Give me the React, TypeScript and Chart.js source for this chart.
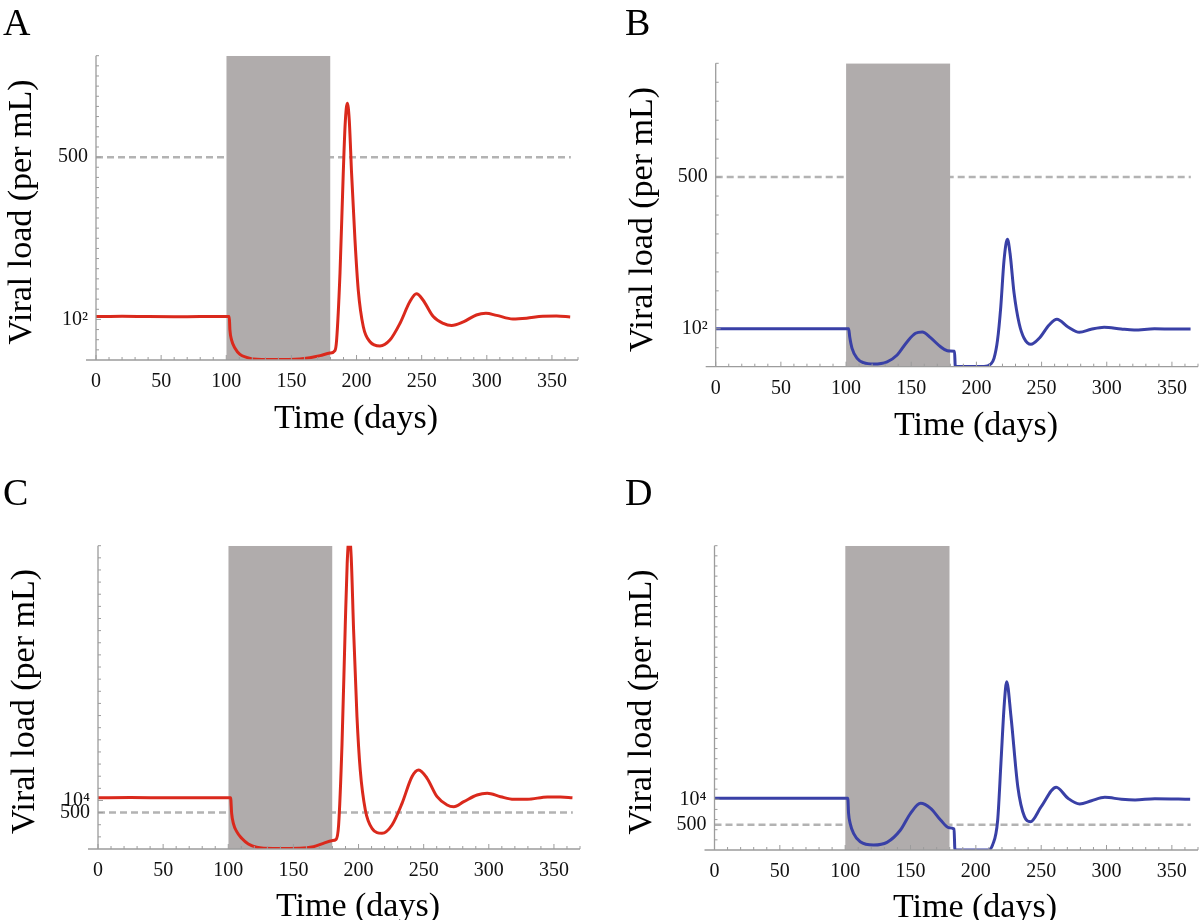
import React, { useEffect, useRef } from "react";
import { Chart, registerables } from "chart.js";

Chart.register(...registerables);

// ---------- shared data ----------
const treatmentStart = 100;
const treatmentEnd = 180;
const xMax = 370;
const thresholdEnd = 364.5;
const xTickValues = [0, 50, 100, 150, 200, 250, 300, 350];
const xTickLabels = ["0", "50", "100", "150", "200", "250", "300", "350"];
const xTitle = "Time (days)";
const yTitle = "Viral load (per mL)";

// ---------- panel A ----------
const daysA = [0, 20, 40, 60, 80, 100, 102.3, 102.8, 104.1, 106.7, 110.5, 115.6, 120.7, 136, 156.6, 164.2, 172, 179.6, 183.4, 184.7, 187.3, 189.8, 191.3, 192.9, 194.4, 196.2, 198.8, 201.3, 205.2, 210.3, 218, 225.6, 233.3, 241, 246, 251, 258.9, 266.6, 273, 282, 292, 299.3, 307.5, 320, 330.5, 343, 353.5, 364];
const loadA = [107, 108, 107, 106.5, 107, 107, 107, 74, 49, 29, 14, 6.6, 2.5, 1, 2.5, 5.7, 10.7, 17, 23, 49, 214, 460, 583, 633, 592, 460, 296, 173, 82, 45, 34.5, 49, 90, 144, 163, 148, 107, 90, 85, 94, 111, 115, 110, 101, 103, 108, 108.5, 106];
const yTickValuesA = [100, 500];
const yTickLabelsA = ["10\u00B2", "500"];
const thresholdA = 500;
const yMaxA = 750;
const yStepA = 25;

// ---------- panel B ----------
const daysB = [0, 25, 50, 75, 100, 102, 102.8, 104.6, 108.5, 113.5, 121.2, 131.5, 139.2, 146.9, 153.3, 158.5, 164.8, 172.5, 177.7, 180, 183.2, 183.8, 195, 205.8, 211, 213.5, 216.2, 218.7, 221.2, 223.8, 225.8, 228.9, 232.8, 236.6, 241.8, 248.2, 255.8, 261.8, 270, 279, 288, 298, 311, 321, 336.6, 352, 364.3];
const loadB = [100, 100, 100, 100, 100, 100, 79, 48.5, 22, 10.5, 7, 13, 31, 66, 88, 91.5, 76.5, 52.7, 42, 41.5, 41, 0.5, 0.5, 0.5, 7, 22, 70, 158, 281, 336, 299, 194, 114, 75, 59, 75, 110, 125, 105.5, 90.7, 98.6, 104, 99.4, 96.8, 100, 99.4, 99.4];
const yTickValuesB = [100, 500];
const yTickLabelsB = ["10\u00B2", "500"];
const thresholdB = 500;
const yMaxB = 800;
const yStepB = 50;

// ---------- panel C ----------
const daysC = [0, 25, 50, 75, 100, 101.8, 102.6, 103.9, 106.5, 110.3, 115.4, 121.8, 134.6, 155, 165.4, 173, 179.5, 182.8, 184.7, 187.3, 189.8, 191.3, 192.9, 194.4, 196.2, 198.8, 201.3, 205.2, 210.3, 218, 225.7, 233.4, 241, 246.2, 252.6, 260.3, 268, 273.1, 280.8, 291, 298.8, 309, 319.2, 329.5, 345, 355, 364.2];
const loadC = [10570, 10600, 10570, 10550, 10570, 10570, 7350, 5300, 3570, 2200, 1030, 350, 100, 150, 480, 1170, 1720, 2000, 4900, 21500, 46000, 59000, 64500, 60000, 45130, 27260, 16280, 8040, 4260, 3230, 4950, 9410, 14900, 16280, 14570, 10780, 9070, 8720, 9750, 11130, 11480, 10780, 10240, 10240, 10720, 10720, 10570];
const yTickValuesC = [10000, 7500];
const yTickLabelsC = ["10\u2074", "500"];
const thresholdC = 7500;
const yMaxC = 62500;
const yStepC = 2500;

// ---------- panel D ----------
const daysD = [0, 25, 50, 75, 100, 102, 102.6, 103.8, 106.4, 111.5, 121.8, 132, 142.3, 150, 157.7, 165.4, 173, 179.5, 183.3, 184, 195, 209, 212.8, 216.7, 219.2, 221.8, 223.6, 226.9, 232.1, 237.2, 241.8, 250, 261.5, 270.5, 279.5, 288.5, 298.7, 311.5, 321.8, 337, 364];
const loadD = [10190, 10190, 10190, 10190, 10190, 10190, 7240, 5260, 3290, 1640, 990, 1510, 3940, 7240, 9210, 8220, 5920, 4400, 4140, 0, 0, 0, 990, 5900, 17150, 28980, 33180, 26280, 12480, 6570, 5580, 8540, 12360, 10190, 9070, 9720, 10390, 10000, 9860, 10110, 10000];
const yTickValuesD = [10000, 5000];
const yTickLabelsD = ["10\u2074", "500"];
const thresholdD = 5000;
const yMaxD = 60000;
const yStepD = 2000;

// ---------- styles ----------
const RED = "#da291c";
const BLUE = "#3940a6";
const RECT_GRAY = "#b0acac";
const DASH_GRAY = "#b3b3b3";
const AXIS_GRAY = "#9c9c9c";
const SERIF = "'Liberation Serif', 'Times New Roman', serif";

type Area = { left: number; right: number; top: number; bottom: number };
type PanelSpec = {
  letter: string;
  days: number[];
  load: number[];
  color: string;
  yMax: number;
  yStep: number;
  yTickValues: number[];
  yTickLabels: string[];
  threshold: number;
  area: Area;
  letterPos: [number, number];
  xTitlePos: [number, number];
  yTitlePos: [number, number];
};

const W = 600;
const H = 460;

const panels: { spec: PanelSpec; left: number; top: number }[] = [
  {
    left: 0,
    top: 0,
    spec: {
      letter: "A", days: daysA, load: loadA, color: RED, yMax: yMaxA, yStep: yStepA,
      yTickValues: yTickValuesA, yTickLabels: yTickLabelsA, threshold: thresholdA,
      area: { left: 96, right: 578, top: 55.7, bottom: 360 },
      letterPos: [3, 35], xTitlePos: [356, 428], yTitlePos: [31, 212],
    },
  },
  {
    left: 600,
    top: 0,
    spec: {
      letter: "B", days: daysB, load: loadB, color: BLUE, yMax: yMaxB, yStep: yStepB,
      yTickValues: yTickValuesB, yTickLabels: yTickLabelsB, threshold: thresholdB,
      area: { left: 115.7, right: 598, top: 63.3, bottom: 366.7 },
      letterPos: [25, 35], xTitlePos: [376, 435], yTitlePos: [51.5, 219.5],
    },
  },
  {
    left: 0,
    top: 460,
    spec: {
      letter: "C", days: daysC, load: loadC, color: RED, yMax: yMaxC, yStep: yStepC,
      yTickValues: yTickValuesC, yTickLabels: yTickLabelsC, threshold: thresholdC,
      area: { left: 98, right: 580, top: 85.7, bottom: 389 },
      letterPos: [3, 45], xTitlePos: [358, 456], yTitlePos: [33.5, 241.5],
    },
  },
  {
    left: 600,
    top: 460,
    spec: {
      letter: "D", days: daysD, load: loadD, color: BLUE, yMax: yMaxD, yStep: yStepD,
      yTickValues: yTickValuesD, yTickLabels: yTickLabelsD, threshold: thresholdD,
      area: { left: 114.5, right: 598, top: 85.7, bottom: 390 },
      letterPos: [25, 45], xTitlePos: [375, 457], yTitlePos: [50.5, 242],
    },
  },
];

function makeDecor(spec: PanelSpec) {
  return {
    id: "decor" + spec.letter,
    afterDatasetsDraw(chart: any) {
      const ctx: CanvasRenderingContext2D = chart.ctx;
      const xs = chart.scales.x;
      const ys = chart.scales.y;
      const x0 = xs.getPixelForValue(0);
      const yb = ys.getPixelForValue(0);
      const yt = ys.getPixelForValue(spec.yMax);
      ctx.save();
      ctx.strokeStyle = AXIS_GRAY;
      ctx.lineWidth = 1.3;
      ctx.beginPath();
      ctx.moveTo(x0 - 10, yb);
      ctx.lineTo(xs.getPixelForValue(xMax), yb);
      ctx.moveTo(x0, yb);
      ctx.lineTo(x0, yt);
      ctx.stroke();
      ctx.lineWidth = 1;
      ctx.beginPath();
      for (let d = 0; d <= xMax; d += 10) {
        const px = xs.getPixelForValue(d);
        const len = d % 50 === 0 ? 5 : 3;
        ctx.moveTo(px, yb);
        ctx.lineTo(px, yb - len);
      }
      const n = Math.round(spec.yMax / spec.yStep);
      for (let i = 1; i <= n; i++) {
        const v = i * spec.yStep;
        const py = ys.getPixelForValue(v);
        const len = spec.yTickValues.includes(v) ? 5 : 3;
        ctx.moveTo(x0, py);
        ctx.lineTo(x0 + len, py);
      }
      ctx.stroke();
      ctx.restore();
    },
    afterDraw(chart: any) {
      const ctx: CanvasRenderingContext2D = chart.ctx;
      ctx.save();
      ctx.fillStyle = "#000";
      ctx.textBaseline = "alphabetic";
      ctx.font = `38px ${SERIF}`;
      ctx.textAlign = "left";
      ctx.fillText(spec.letter, spec.letterPos[0], spec.letterPos[1]);
      ctx.font = `34px ${SERIF}`;
      ctx.textAlign = "center";
      ctx.fillText(xTitle, spec.xTitlePos[0], spec.xTitlePos[1]);
      ctx.translate(spec.yTitlePos[0], spec.yTitlePos[1]);
      ctx.rotate(-Math.PI / 2);
      ctx.fillText(yTitle, 0, 0);
      ctx.restore();
    },
  };
}

function Panel({ spec, left, top }: { spec: PanelSpec; left: number; top: number }) {
  const ref = useRef<HTMLCanvasElement>(null);
  useEffect(() => {
    const canvas = ref.current;
    if (!canvas) return;
    const curve = spec.days.map((d, i) => ({ x: d, y: spec.load[i] }));
    const chart = new Chart(canvas, {
      type: "line",
      data: {
        datasets: [
          {
            label: "Viral load",
            data: curve,
            borderColor: spec.color,
            borderWidth: 3,
            pointRadius: 0,
            cubicInterpolationMode: "monotone",
            fill: false,
            order: 0,
          },
          {
            label: "Treatment",
            data: [
              { x: treatmentStart, y: spec.yMax },
              { x: treatmentEnd, y: spec.yMax },
            ],
            borderWidth: 0,
            borderColor: RECT_GRAY,
            backgroundColor: RECT_GRAY,
            pointRadius: 0,
            tension: 0,
            fill: "start",
            order: 1,
          },
          {
            label: "Threshold",
            data: [
              { x: 0, y: spec.threshold },
              { x: thresholdEnd, y: spec.threshold },
            ],
            borderColor: DASH_GRAY,
            borderWidth: 2.5,
            borderDash: [7, 4],
            pointRadius: 0,
            tension: 0,
            fill: false,
            order: 2,
          },
        ] as any,
      },
      options: {
        responsive: false,
        animation: false,
        devicePixelRatio: 1,
        layout: {
          padding: {
            left: 0,
            right: W - spec.area.right,
            top: spec.area.top,
            bottom: 0,
          },
        },
        plugins: {
          legend: { display: false },
          tooltip: { enabled: false },
          title: { display: false },
        },
        scales: {
          x: {
            type: "linear",
            min: 0,
            max: xMax,
            grid: { display: false, drawTicks: false },
            border: { display: false },
            afterFit: (s: any) => {
              s.height = H - spec.area.bottom;
            },
            afterBuildTicks: (s: any) => {
              s.ticks = xTickValues.map((v) => ({ value: v }));
            },
            ticks: {
              autoSkip: false,
              maxRotation: 0,
              padding: 10,
              color: "#111",
              font: { family: SERIF, size: 20 },
              callback: (_v: any, i: number) => xTickLabels[i],
            },
          },
          y: {
            type: "linear",
            min: 0,
            max: spec.yMax,
            grid: { display: false, drawTicks: false },
            border: { display: false },
            afterFit: (s: any) => {
              s.width = spec.area.left;
            },
            afterBuildTicks: (s: any) => {
              s.ticks = spec.yTickValues.map((v) => ({ value: v }));
            },
            ticks: {
              autoSkip: false,
              padding: 8,
              color: "#111",
              font: { family: SERIF, size: 20 },
              callback: (_v: any, i: number) => spec.yTickLabels[i],
            },
          },
        },
      } as any,
      plugins: [makeDecor(spec)],
    });
    return () => chart.destroy();
  }, [spec]);
  return (
    <canvas
      ref={ref}
      width={W}
      height={H}
      style={{ position: "absolute", left, top, width: W, height: H, display: "block" }}
    />
  );
}

export default function App() {
  return (
    <div
      style={{
        position: "absolute",
        left: 0,
        top: 0,
        width: 1200,
        height: 920,
        background: "#fff",
        overflow: "hidden",
      }}
    >
      {panels.map((p) => (
        <Panel key={p.spec.letter} spec={p.spec} left={p.left} top={p.top} />
      ))}
    </div>
  );
}
